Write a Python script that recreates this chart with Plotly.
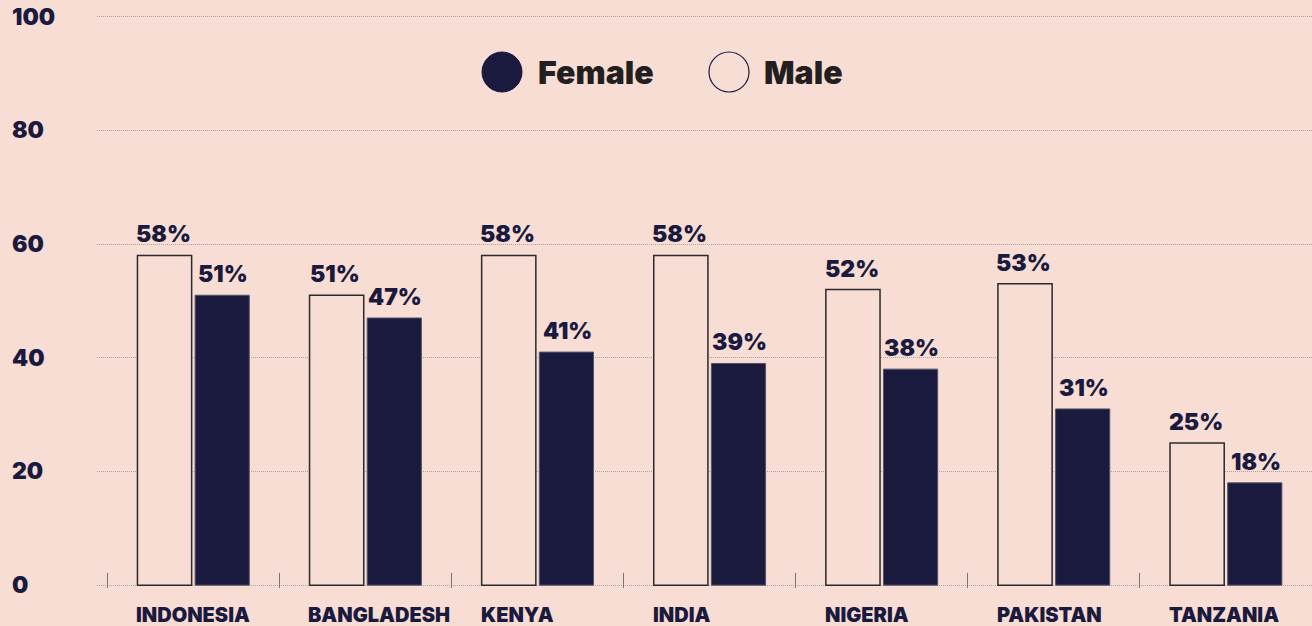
import plotly.graph_objects as go

countries = ["INDONESIA", "BANGLADESH", "KENYA", "INDIA", "NIGERIA", "PAKISTAN", "TANZANIA"]
male = [58, 51, 58, 58, 52, 53, 25]
female = [51, 47, 41, 39, 38, 31, 18]
y_ticks = [0, 20, 40, 60, 80, 100]

BG = "#f7ddd4"
NAVY = "#1a1a3e"
FONT = "Inter"

fig = go.Figure()
fig.add_trace(go.Bar(
    x=countries, y=male, name="Male",
    marker=dict(color=BG, line=dict(color="#2b2b2b", width=1.5)),
    showlegend=False, hoverinfo="skip",
))
fig.add_trace(go.Bar(
    x=countries, y=female, name="Female",
    marker=dict(color=NAVY, line=dict(color="#55556a", width=1)),
    showlegend=False, hoverinfo="skip",
))

lab_font = dict(family=FONT, size=23, color=NAVY, weight=900)
annotations = []
# value labels above bars
for c, m, f in zip(countries, male, female):
    annotations.append(dict(x=c, xref="x", xshift=-30, y=m, yref="y",
                            yanchor="bottom", yshift=5, text=f"{m}%",
                            showarrow=False, font=lab_font))
    annotations.append(dict(x=c, xref="x", xshift=30, y=f, yref="y",
                            yanchor="bottom", yshift=5, text=f"{f}%",
                            showarrow=False, font=lab_font))
# y tick labels, left aligned
for t in y_ticks:
    annotations.append(dict(
        x=-87 / 1215, xref="paper", xanchor="left",
        y=t, yref="y", yanchor="middle",
        text=str(t), showarrow=False, font=lab_font,
    ))
# country labels, left aligned under male bar
for c in countries:
    annotations.append(dict(
        x=c, xref="x", xanchor="left", xshift=-59,
        y=0, yref="y", yanchor="middle", yshift=-30,
        text=c, showarrow=False,
        font=dict(family=FONT, size=20, color=NAVY, weight=900),
    ))
# legend text
leg_y = (588 - 72) / 577
annotations.append(dict(x=(536 - 97) / 1215, xref="paper", xanchor="left",
                        y=leg_y, yref="paper", yanchor="middle",
                        text="Female", showarrow=False,
                        font=dict(family=FONT, size=32, color="#231f20", weight=900)))
annotations.append(dict(x=(762 - 97) / 1215, xref="paper", xanchor="left",
                        y=leg_y, yref="paper", yanchor="middle",
                        text="Male", showarrow=False,
                        font=dict(family=FONT, size=32, color="#231f20", weight=900)))

shapes = [
    dict(type="circle", xref="paper", yref="paper", xsizemode="pixel", ysizemode="pixel",
         xanchor=(502 - 97) / 1215, yanchor=leg_y,
         x0=-20, x1=20, y0=-20, y1=20, fillcolor=NAVY, line=dict(color=NAVY, width=1)),
    dict(type="circle", xref="paper", yref="paper", xsizemode="pixel", ysizemode="pixel",
         xanchor=(729 - 97) / 1215, yanchor=leg_y,
         x0=-20, x1=20, y0=-20, y1=20, fillcolor=BG, line=dict(color=NAVY, width=1.2)),
]

fig.update_layout(
    width=1312, height=626,
    paper_bgcolor=BG, plot_bgcolor=BG,
    margin=dict(l=97, r=0, t=11, b=38),
    barmode="group", bargap=0.33, bargroupgap=0.06,
    annotations=annotations, shapes=shapes,
    showlegend=False, hovermode=False,
    xaxis=dict(type="category", range=[-0.56, 6.5], showticklabels=False,
               ticks="inside", tickson="boundaries", ticklen=15, tickwidth=1.2,
               tickcolor="#777", showgrid=False, showline=False, zeroline=False),
    yaxis=dict(range=[-0.5, 101], tickvals=y_ticks, showticklabels=False,
               showgrid=True, gridcolor="#aaa4a2", gridwidth=1, griddash="1px,1px",
               zeroline=False, showline=False),
)

fig.write_html(
    "out.html",
    config={"displayModeBar": False},
    post_script="document.body.style.margin='0';document.body.style.background='%s';" % BG,
)
